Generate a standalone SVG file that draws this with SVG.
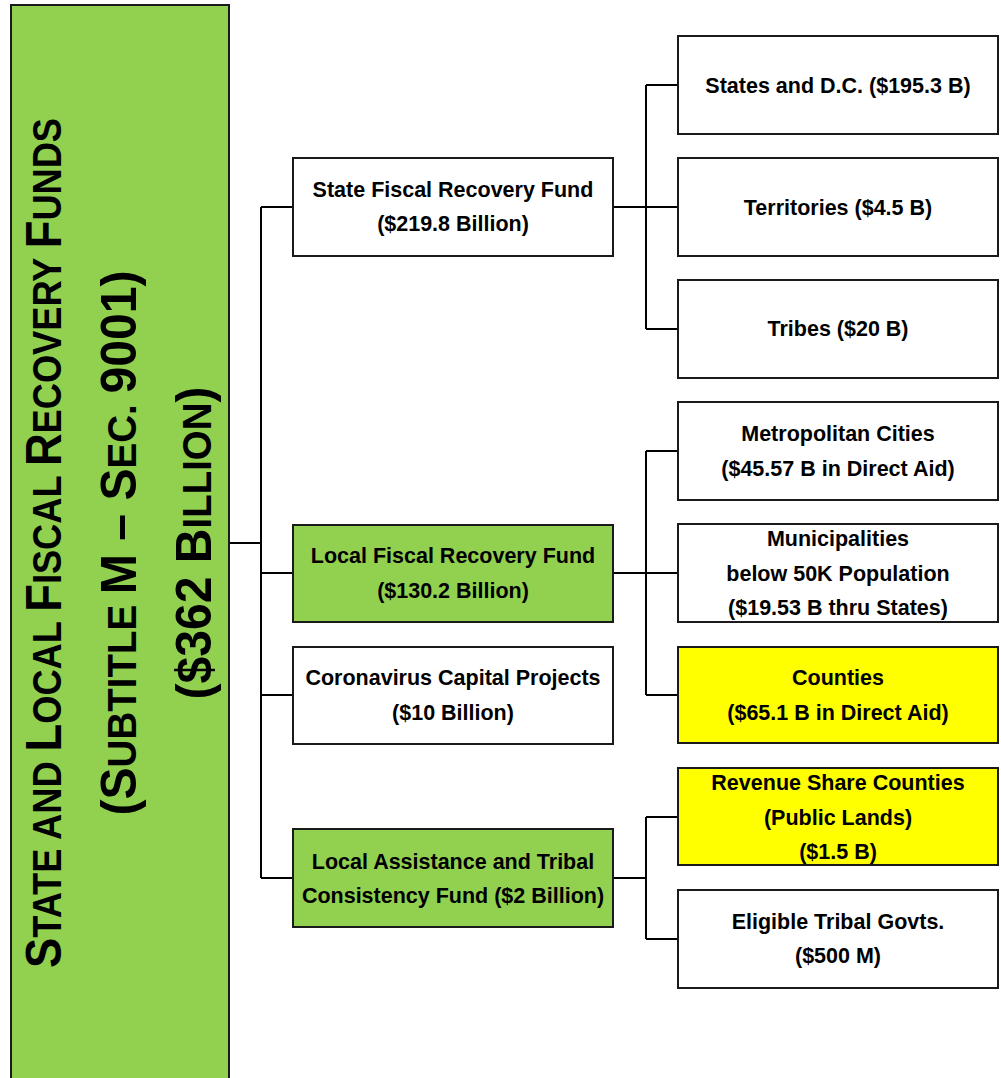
<svg xmlns="http://www.w3.org/2000/svg" width="1001" height="1078" viewBox="0 0 1001 1078">
<style>
.box{stroke:#1a1a1a;stroke-width:2;fill:#fff}
.green{fill:#92D050}
.yellow{fill:#FFFF00}
.t{font-family:"Liberation Sans",Arial,sans-serif;font-weight:bold;font-size:21.5px;fill:#000;text-anchor:middle}
.title{font-family:"Liberation Sans",Arial,sans-serif;font-weight:bold;fill:#000;text-anchor:middle;font-size:50px}
.sc{font-size:40px}
.c{stroke:#000;stroke-width:2;fill:none}
</style>
<rect width="1001" height="1078" fill="#fff"/>
<g id="connectors">
<path class="c" d="M229,543 H261 M261,207 V878 M261,207 H293 M261,573 H293 M261,695 H293 M261,878 H293"/>
<path class="c" d="M613,207 H678 M646,85 V329 M646,85 H678 M646,329 H678"/>
<path class="c" d="M613,573 H678 M646,451 V695 M646,451 H678 M646,695 H678"/>
<path class="c" d="M613,878 H646 M646,817 V939 M646,817 H678 M646,939 H678"/>
</g>
<g id="root">
<rect class="box green" x="11" y="5" width="218" height="1080" stroke-width="2.5"/>
<g transform="translate(0,543) rotate(-90)">
<text class="title" x="0" y="61" textLength="850" lengthAdjust="spacingAndGlyphs">S<tspan class="sc">TATE AND </tspan>L<tspan class="sc">OCAL </tspan>F<tspan class="sc">ISCAL </tspan>R<tspan class="sc">ECOVERY </tspan>F<tspan class="sc">UNDS</tspan></text>
<text class="title" x="0" y="136" textLength="545" lengthAdjust="spacingAndGlyphs">(S<tspan class="sc">UBTITLE </tspan>M – S<tspan class="sc">EC. </tspan>9001)</text>
<text class="title" x="0" y="211" textLength="313" lengthAdjust="spacingAndGlyphs">($362 B<tspan class="sc">ILLION</tspan>)</text>
</g>
</g>
<g id="state-fiscal">
<rect class="box" x="293" y="158" width="320" height="98"/>
<text class="t" x="453" y="197">State Fiscal Recovery Fund</text>
<text class="t" x="453" y="231">($219.8 Billion)</text>
</g>
<g id="local-fiscal">
<rect class="box green" x="293" y="525" width="320" height="97"/>
<text class="t" x="453" y="563">Local Fiscal Recovery Fund</text>
<text class="t" x="453" y="598">($130.2 Billion)</text>
</g>
<g id="coronavirus">
<rect class="box" x="293" y="647" width="320" height="97"/>
<text class="t" x="453" y="685">Coronavirus Capital Projects</text>
<text class="t" x="453" y="720">($10 Billion)</text>
</g>
<g id="local-assistance">
<rect class="box green" x="293" y="829" width="320" height="98"/>
<text class="t" x="453" y="869">Local Assistance and Tribal</text>
<text class="t" x="453" y="903">Consistency Fund ($2 Billion)</text>
</g>
<g id="states-dc">
<rect class="box" x="678" y="36" width="320" height="98"/>
<text class="t" x="838" y="93">States and D.C. ($195.3 B)</text>
</g>
<g id="territories">
<rect class="box" x="678" y="158" width="320" height="98"/>
<text class="t" x="838" y="215">Territories ($4.5 B)</text>
</g>
<g id="tribes">
<rect class="box" x="678" y="280" width="320" height="98"/>
<text class="t" x="838" y="336">Tribes ($20 B)</text>
</g>
<g id="metropolitan">
<rect class="box" x="678" y="402" width="320" height="98"/>
<text class="t" x="838" y="441">Metropolitan Cities</text>
<text class="t" x="838" y="476">($45.57 B in Direct Aid)</text>
</g>
<g id="municipalities">
<rect class="box" x="678" y="524" width="320" height="98"/>
<text class="t" x="838" y="546">Municipalities</text>
<text class="t" x="838" y="581">below 50K Population</text>
<text class="t" x="838" y="615">($19.53 B thru States)</text>
</g>
<g id="counties">
<rect class="box yellow" x="678" y="647" width="320" height="96"/>
<text class="t" x="838" y="685">Counties</text>
<text class="t" x="838" y="720">($65.1 B in Direct Aid)</text>
</g>
<g id="revenue-share">
<rect class="box yellow" x="678" y="768" width="320" height="97"/>
<text class="t" x="838" y="790">Revenue Share Counties</text>
<text class="t" x="838" y="825">(Public Lands)</text>
<text class="t" x="838" y="859">($1.5 B)</text>
</g>
<g id="eligible-tribal">
<rect class="box" x="678" y="890" width="320" height="98"/>
<text class="t" x="838" y="929">Eligible Tribal Govts.</text>
<text class="t" x="838" y="963">($500 M)</text>
</g>
</svg>
